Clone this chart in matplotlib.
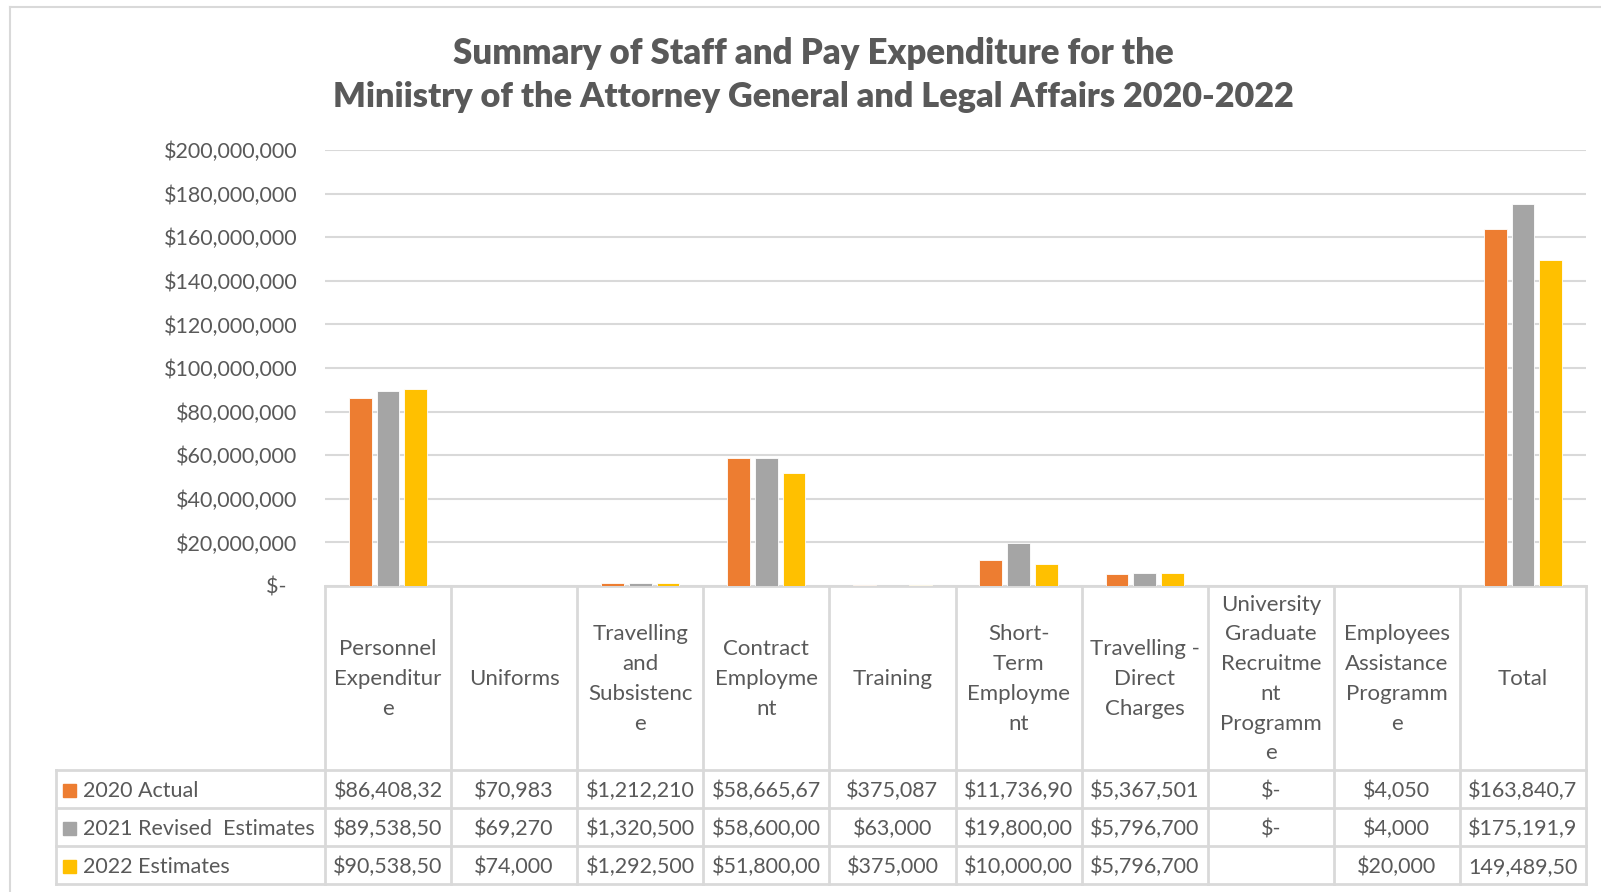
import numpy as np
import matplotlib
matplotlib.use("Agg")
import matplotlib.pyplot as plt
from matplotlib.lines import Line2D
from matplotlib.patches import Rectangle
from matplotlib.transforms import blended_transform_factory

plt.rcParams['font.family'] = ['Lato', 'DejaVu Sans']

# data
categories = [
    "Personnel\nExpenditur\ne", "Uniforms", "Travelling\nand\nSubsistenc\ne",
    "Contract\nEmployme\nnt", "Training", "Short-\nTerm\nEmployme\nnt",
    "Travelling -\nDirect\nCharges", "University\nGraduate\nRecruitme\nnt\nProgramm\ne",
    "Employees\nAssistance\nProgramm\ne", "Total",
]
series = ["2020 Actual", "2021 Revised  Estimates", "2022 Estimates"]
actual_2020 = [86408320, 70983, 1212210, 58665670, 375087, 11736900, 5367501, 0, 4050, 163840700]
revised_2021 = [89538500, 69270, 1320500, 58600000, 63000, 19800000, 5796700, 0, 4000, 175191900]
est_2022 = [90538500, 74000, 1292500, 51800000, 375000, 10000000, 5796700, 0, 20000, 149489500]

# text shown in the data table (cells are clipped in the original)
labels_2020 = ["$86,408,32", "$70,983", "$1,212,210", "$58,665,67", "$375,087",
               "$11,736,90", "$5,367,501", "$-", "$4,050", "$163,840,7"]
labels_2021 = ["$89,538,50", "$69,270", "$1,320,500", "$58,600,00", "$63,000",
               "$19,800,00", "$5,796,700", "$-", "$4,000", "$175,191,9"]
labels_2022 = ["$90,538,50", "$74,000", "$1,292,500", "$51,800,00", "$375,000",
               "$10,000,00", "$5,796,700", "", "$20,000", "149,489,50"]

colors = ["#ED7D31", "#A5A5A5", "#FFC000"]
text_c = "#595959"
grid_c = "#D9D9D9"

W, H = 1601, 892
def fx(x): return x / W
def fy(y): return 1 - y / H

fig = plt.figure(figsize=(W / 100, H / 100), dpi=100)

# plot area
left, right, top, bottom = 325, 1586, 150, 586
ax = fig.add_axes([fx(left), fy(bottom), fx(right - left), (bottom - top) / H])

x = np.arange(len(categories))
off = 0.22
bw = 0.18
for i, (vals, c) in enumerate(zip([actual_2020, revised_2021, est_2022], colors)):
    ax.bar(x + (i - 1) * off, vals, width=bw, color=c, edgecolor="white", linewidth=0.6, zorder=3)

ax.set_xlim(-0.5, len(categories) - 0.5)
ax.set_ylim(0, 200000000)
yt = np.arange(0, 200000001, 20000000)
ax.set_yticks(yt)
ax.set_yticklabels(["$-  "] + ["${:,.0f}".format(v) for v in yt[1:]])
ax.tick_params(axis='y', length=0, pad=20, labelsize=15.5, labelcolor=text_c)
ax.set_xticks([])
ax.grid(axis='y', color=grid_c, linewidth=1.5, zorder=0)
for s in ["top", "right", "left"]:
    ax.spines[s].set_visible(False)
ax.spines["bottom"].set_color(grid_c)
ax.spines["bottom"].set_linewidth(2)

# title
fig.text(fx(813), fy(53), "Summary of Staff and Pay Expenditure for the", ha="center", va="center",
         fontsize=25, fontweight="heavy", color=text_c)
fig.text(fx(813), fy(97), "Miniistry of the Attorney General and Legal Affairs 2020-2022", ha="center",
         va="center", fontsize=24.7, fontweight="heavy", color=text_c)

# outer chart border
fig.add_artist(Line2D([fx(10), fx(10)], [fy(7), fy(H + 5)], color=grid_c, lw=1.5))
fig.add_artist(Line2D([fx(10), fx(W + 5)], [fy(7), fy(7)], color=grid_c, lw=1.5))

# data table
tr = blended_transform_factory(ax.transData, fig.transFigure)
row_lines = [770, 808, 846, 884]
tab_left = 56
for k in range(len(categories) + 1):
    fig.add_artist(Line2D([k - 0.5, k - 0.5], [fy(bottom), fy(884)], transform=tr, color=grid_c, lw=2))
fig.add_artist(Line2D([fx(tab_left), fx(tab_left)], [fy(770), fy(884)], color=grid_c, lw=2))
for yl in row_lines:
    fig.add_artist(Line2D([fx(tab_left), fx(right)], [fy(yl), fy(yl)], color=grid_c, lw=2))

for i, cat in enumerate(categories):
    fig.text(i, fy(679), cat, transform=tr, ha="center", va="center", fontsize=16,
             color=text_c, linespacing=1.61)

rows = [labels_2020, labels_2021, labels_2022]
for r, (name, labs, c) in enumerate(zip(series, rows, colors)):
    yc = (row_lines[r] + row_lines[r + 1]) / 2 + 2
    fig.add_artist(Rectangle((fx(63), fy(yc + 6)), 13 / W, 13 / H, color=c))
    fig.text(fx(83), fy(yc), name, ha="left", va="center", fontsize=15.5, color=text_c)
    for i, lab in enumerate(labs):
        fig.text(i, fy(yc), lab, transform=tr, ha="center", va="center", fontsize=15.5, color=text_c)

fig.savefig("out.png", dpi=100)
